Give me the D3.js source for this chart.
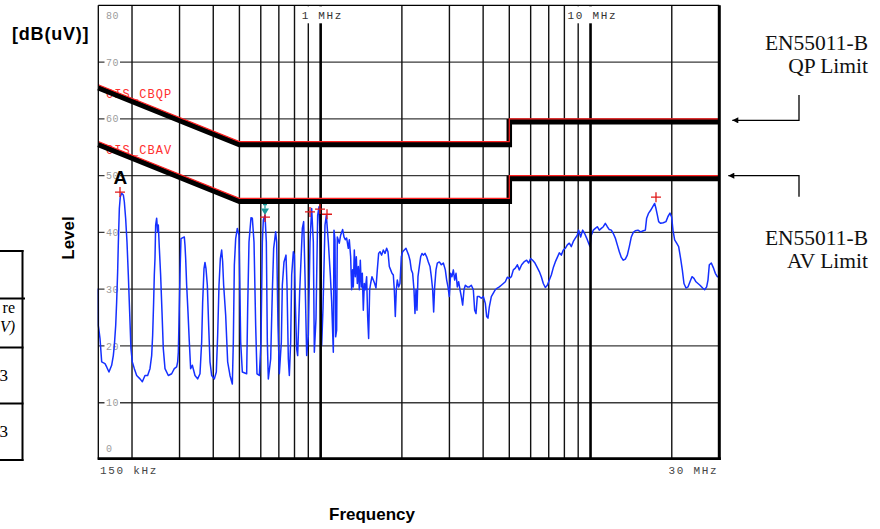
<!DOCTYPE html>
<html><head><meta charset="utf-8">
<script src="https://cdn.jsdelivr.net/npm/d3@7"></script>
<style>html,body{margin:0;padding:0;background:#fff;} svg{display:block;}</style>
</head><body>
<svg id="chart" width="880" height="529"></svg>
<script>
// ---------- data ----------
const yTickValues = [0, 10, 20, 30, 40, 50, 60, 70, 80];
const gridFreqsMHz = [0.2,0.3,0.4,0.5,0.6,0.7,0.8,0.9,1,2,3,4,5,6,7,8,9,10,20];
const decadeFreqsMHz = [1, 10];
const decadeLabels = ["1 MHz", "10 MHz"];
const edgeLabels = ["150 kHz", "30 MHz"];
const limitFreqMHz = [0.15, 0.5, 5, 5, 30];
const qpLimit = [66, 56, 56, 60, 60];
const avLimit = [56, 46, 46, 50, 50];
const limitNames = ["CIS_CBQP", "CIS_CBAV"];

const lowBandFreqKHz = [150.0,150.1,152.2,154.4,158.8,161.1,164.3,168.1,170.5,172.0,
174.0,175.4,176.9,178.0,179.5,181.0,183.1,185.7,187.3,189.4,
191.6,193.8,196.0,198.2,200.5,204.0,208.1,214.1,218.4,223.4,
228.5,233.1,236.5,238.5,240.5,241.9,243.3,244.7,246.8,248.9,
250.3,252.5,255.3,258.3,261.2,265.0,272.6,280.5,286.9,292.7,
295.2,296.9,298.6,301.1,303.7,312.5,314.3,316.1,318.8,322.4,
326.1,329.8,334.6,342.3,350.1,357.2,362.3,365.4,369.6,372.7,
376.0,380.3,384.6,389.0,394.6,403.7,410.6,415.3,420.1,424.9,
429.7,433.4,437.1,444.7,452.3,461.4,470.7,474.7,478.8,484.3,
491.2,498.3,501.1,505.4,512.6,531.9,536.5,542.6,552.0,558.3,
566.3,574.4,580.9,592.6,601.1,608.0,613.2,622.0,629.1,634.5,
639.9,652.8,662.1,669.7,681.2,687.1,694.9,702.9,715.0,721.1,
731.4,744.0,750.4,759.0,765.5,774.2,780.9,792.1,798.9,805.7,
814.9,821.9,836.0,855.3,865.0,874.9,887.5,900.2,913.1,926.2,
939.4,947.5,961.1,974.8,986.0,997.3,1008.7,1020.2,1037.8,1049.6,
1067.7,1086.1,1098.5,1114.2];
const lowBandLevel = [30.1,23.6,21.3,17.2,16.9,16.3,15.4,16.6,18.3,20.1,
23.6,27.7,33.0,38.3,44.2,46.3,46.9,46.6,45.4,42.5,
38.3,32.5,26.0,19.5,17.2,16.0,14.8,14.2,13.7,14.8,
14.8,16.0,18.3,21.9,27.7,32.5,35.4,41.3,42.5,40.1,
41.3,37.2,32.5,26.0,19.5,16.0,14.8,15.1,16.0,16.3,
17.2,18.9,24.2,32.5,38.9,39.2,37.7,35.4,30.7,26.0,
20.7,16.0,16.6,14.8,14.2,15.1,20.7,27.7,33.6,34.7,
33.6,30.7,23.6,17.2,14.8,14.2,15.4,21.9,30.7,35.4,
36.9,34.8,30.7,25.4,17.2,14.8,13.3,20.7,34.2,38.9,
40.7,39.5,32.5,20.7,15.4,15.1,26.6,38.3,42.6,42.5,
38.3,23.6,15.1,14.8,20.7,38.3,42.2,43.0,38.3,20.7,
14.2,17.7,29.5,37.2,40.1,38.3,23.6,15.1,20.7,30.7,
34.8,36.0,30.7,17.7,14.8,20.7,32.5,36.6,36.0,27.7,
19.5,18.3,29.5,40.7,41.9,32.5,18.3,21.9,38.3,44.2,
38.3,18.9,24.8,43.0,44.5,38.3,20.1,26.6,41.3,43.0,
38.3,32.5,27.7,18.9];

const midBandFreqKHz = [1120.4,1130.0,1136.5,1146.2,1152.7,1172.5,1185.9,1206.4,1220.2,1234.1,
1248.2,1266.1,1277.0,1291.6,1302.6,1313.8,1321.3,1332.7,1344.1,1355.6,
1367.2,1379.0,1390.7,1402.6,1414.7,1426.8,1439.0,1451.3,1463.7,1480.5,
1493.2,1505.9,1518.9,1531.9,1549.4,1567.2,1585.1,1603.2,1621.5,1640.1,
1658.9,1682.7,1706.8,1731.2,1756.0,1776.1,1796.4,1817.0,1837.8,1858.8,
1874.7,1890.7,1906.9,1923.3,1945.3,1967.5,1990.1,2012.8,2041.7,2070.9,
2094.6,2118.6,2142.8,2167.3,2192.0,2217.1,2236.1,2255.2,2274.5,2294.0,
2320.7,2347.2,2374.1,2401.2,2435.7,2470.5,2505.9,2541.8,2570.9,2600.3,
2622.6,2645.0,2675.2,2705.8,2752.4,2799.9,2848.1,2897.1,2930.3,2963.8,
2997.7,3032.0,3066.6,3101.8,3137.2,3173.1,3209.4,3246.1,3283.3,3320.8,
3358.7,3397.2,3436.1,3495.2,3555.3,3616.5,3678.8,3720.9,3763.4,3806.5,
3872.0,3938.6,4006.4,4075.3,4121.9,4169.0,4216.7,4289.3,4363.1,4438.2,
4514.6,4592.3,4671.3,4751.7,4833.5,4916.7,5001.3,5087.4,5175.0,5264.1,
5354.7,5446.9];
const midBandLevel = [40.4,38.7,21.6,22.8,39.2,38.1,39.5,40.5,39.2,38.7,
39.0,37.2,38.7,35.7,29.9,33.4,30.4,36.9,32.2,35.7,
31.0,34.0,29.9,35.1,30.4,32.8,26.3,31.0,29.9,32.2,
25.2,21.3,29.9,31.0,32.2,31.6,31.0,30.2,33.4,36.3,
36.6,36.0,36.9,36.3,37.2,36.6,34.0,33.4,32.8,32.5,
29.9,25.2,29.9,31.6,30.4,31.0,35.7,36.6,36.9,37.2,
36.6,36.0,35.1,33.4,32.8,29.9,25.7,29.9,26.3,32.2,
34.0,35.7,36.3,36.0,36.3,35.7,34.8,34.0,32.2,29.9,
26.0,30.4,33.4,34.6,34.8,34.3,34.6,33.4,31.6,30.4,
28.7,32.8,32.2,33.4,31.6,32.8,30.4,31.3,29.9,28.7,
27.2,29.9,30.7,30.4,30.4,30.7,29.9,26.3,25.7,28.7,
28.7,28.4,28.7,27.5,25.2,24.9,26.9,28.7,29.3,29.9,
30.2,30.4,30.7,31.0,31.3,32.1,31.9,32.2,33.4,33.7,
34.3,33.4];

const highBandFreqKHz = [5555.7,5667.7,5797.9,5899.5,5999.3,6102.6,6225.2,6350.3,6459.6,6570.8,
6683.8,6798.9,6915.9,7035.0,7156.0,7279.2,7404.5,7532.0,7661.7,7793.4,
7927.5,8064.5,8202.9,8344.0,8487.7,8633.7,8782.2,8933.3,9035.5,9190.9,
9349.2,9510.1,9673.7,9840.1,9952.7,10067,10240,10416,10595,10778,
10963,11152,11344,11539,11738,11940,12145,12354,12566,12784,
13003,13227,13455,13686,13921,14161,14405,14653,14990,15335,
15688,15959,16141,16418,16700,16988,17281,17478,17678,17880,
18187,18607,19035,19363,19696,19977,20207,20497,20848,21207,
21572,21881,22194,22576,22964,23361,23762,24171,24587,25010,
25442,26027,26473,26930,27238,27549,28022,28505,28996,29496,
29917];
const highBandLevel = [34.3,34.8,35.1,34.6,35.4,35.1,34.6,33.8,33.1,32.2,
31.0,30.3,30.7,31.6,32.5,33.8,34.8,35.6,36.4,36.0,
36.9,37.2,37.8,38.1,37.5,38.4,39.0,39.5,40.4,39.2,
40.4,39.8,39.0,38.1,37.5,39.5,40.4,40.7,41.0,40.4,
40.7,41.0,41.6,41.0,40.5,40.4,39.8,39.0,37.8,36.6,
35.6,35.1,35.3,36.0,37.5,39.2,40.0,40.3,40.4,40.1,
40.3,40.4,42.5,43.4,43.9,44.5,45.1,44.2,43.1,41.9,
41.6,41.7,41.9,42.8,43.4,42.7,40.4,38.7,38.1,37.5,
35.4,33.4,31.0,30.2,30.4,31.3,32.2,31.9,31.3,31.0,
30.7,30.2,29.9,30.4,31.6,34.3,34.6,33.8,32.8,32.2,
32.2];

const markerFreqMHz = [0.1805, 0.622, 0.913, 0.9946, 1.0556, 17.48];
const markerLevel = [47.1, 42.7, 43.6, 44.1, 43.2, 46.2];
const deltaMarkerFreqMHz = [0.622];
const deltaMarkerLevel = [44.2];
const peakLabel = "A";

const annotations = [["EN55011-B", "QP Limit"], ["EN55011-B", "AV Limit"]];
// only the visible right-hand fragments of the neighbouring table
const tableTexts = ["re", "V)", "3", "3"];

// ---------- chart ----------
const svg = d3.select("#chart");
svg.append("rect").attr("width", 880).attr("height", 529).attr("fill", "#fff");

const x = d3.scaleLog().domain([0.15, 30]).range([98.3, 719.3]);
const y = d3.scaleLinear().domain([0, 80]).range([459.5, 5.3]);
const mono = "'Liberation Mono','DejaVu Sans Mono',monospace";

// horizontal grid
svg.append("g").selectAll("line").data(yTickValues.filter(v => v > 0 && v < 80)).join("line")
  .attr("x1", x(0.15)).attr("x2", x(30)).attr("y1", d => y(d)).attr("y2", d => y(d))
  .attr("stroke", "#3a3a3a").attr("stroke-width", 1.3);

// vertical grid (thin ones)
svg.append("g").selectAll("line").data(gridFreqsMHz.filter(f => !decadeFreqsMHz.includes(f))).join("line")
  .attr("x1", d => x(d)).attr("x2", d => x(d)).attr("y1", y(80)).attr("y2", y(0))
  .attr("stroke", "#111").attr("stroke-width", 1.4);

// y tick labels with white background
const yl = svg.append("g");
yTickValues.forEach(v => {
  let by = y(v) + 3.6;
  if (v === 80) by = y(v) + 13.2;
  if (v === 0) by = y(v) - 8;
  if (v > 0 && v < 80) {
    yl.append("rect").attr("x", 104.5).attr("y", y(v) - 4).attr("width", v >= 10 ? 15.5 : 9).attr("height", 8).attr("fill", "#fff");
  }
  yl.append("text").attr("x", 106).attr("y", by).text(String(v))
    .attr("font-family", mono).attr("font-size", 10).attr("letter-spacing", 0.6).attr("fill", "#9c9c9c");
});

// limit names (under the limit lines)
[qpLimit, avLimit].forEach((lim, i) => {
  svg.append("text").attr("x", 106).attr("y", y(lim[0]) + 13.2 - (i === 0 ? 0 : 0.5))
    .text(limitNames[i]).attr("font-family", mono).attr("font-size", 12)
    .attr("letter-spacing", 1.1).attr("fill", "#ff3030");
});

// trace
const trace = [
  ...d3.zip(lowBandFreqKHz, lowBandLevel),
  ...d3.zip(midBandFreqKHz, midBandLevel),
  ...d3.zip(highBandFreqKHz, highBandLevel)
];
const line = d3.line().x(d => x(d[0] / 1000)).y(d => y(d[1]));
svg.append("path").attr("d", line(trace)).attr("fill", "none")
  .attr("stroke", "#1530ff").attr("stroke-width", 1.5).attr("stroke-linejoin", "round");

// decade grid lines (thick) with top labels
decadeFreqsMHz.forEach((f, i) => {
  svg.append("line").attr("x1", x(f)).attr("x2", x(f)).attr("y1", y(80)).attr("y2", y(0))
    .attr("stroke", "#000").attr("stroke-width", 2.6);
  svg.append("rect").attr("x", x(f) - 24).attr("y", y(80) + 1).attr("width", 52).attr("height", 17).attr("fill", "#fff");
  svg.append("text").attr("x", x(f) - (i === 0 ? 19 : 23)).attr("y", 18.5).text(decadeLabels[i])
    .attr("font-family", mono).attr("font-size", 11).attr("letter-spacing", 1.7).attr("fill", "#333");
});

// limit lines: thick black under, thin red on exact value
[qpLimit, avLimit].forEach(lim => {
  const pts = d3.zip(limitFreqMHz, lim);
  const l = d3.line().x(d => x(d[0])).y(d => y(d[1]));
  svg.append("path").attr("d", l(pts)).attr("transform", "translate(0,2.9)")
    .attr("fill", "none").attr("stroke", "#000").attr("stroke-width", 5.5).attr("stroke-linejoin", "miter");
  svg.append("path").attr("d", l(pts)).attr("fill", "none")
    .attr("stroke", "#ff2020").attr("stroke-width", 1.2);
});

// markers
markerFreqMHz.forEach((f, i) => {
  const cx = x(f), cy = y(markerLevel[i]);
  svg.append("path").attr("d", `M${cx - 5},${cy}H${cx + 5}M${cx},${cy - 5}V${cy + 5}`)
    .attr("stroke", "#e01818").attr("stroke-width", 1.3);
});
deltaMarkerFreqMHz.forEach((f, i) => {
  const cx = x(f), cy = y(deltaMarkerLevel[i]);
  svg.append("path").attr("d", `M${cx - 4},${cy}L${cx + 4},${cy}L${cx},${cy + 6.5}Z`).attr("fill", "#1a9a9a");
  svg.append("path").attr("d", `M${cx - 2},${cy - 4}H${cx + 2}M${cx},${cy - 4}V${cy}`)
    .attr("stroke", "#1a9a9a").attr("stroke-width", 1.2);
});
svg.append("text").attr("x", x(markerFreqMHz[0]) + 0.3).attr("y", y(markerLevel[0]) - 8)
  .attr("text-anchor", "middle").text(peakLabel)
  .attr("font-family", "'Liberation Sans',Arial,sans-serif").attr("font-weight", "bold").attr("font-size", 19);

// frame
svg.append("line").attr("x1", x(0.15)).attr("x2", x(30)).attr("y1", y(80)).attr("y2", y(80)).attr("stroke", "#000").attr("stroke-width", 1.2);
svg.append("line").attr("x1", x(0.15)).attr("x2", x(0.15)).attr("y1", y(80)).attr("y2", y(0)).attr("stroke", "#000").attr("stroke-width", 1.3);
svg.append("line").attr("x1", x(30)).attr("x2", x(30)).attr("y1", y(80)).attr("y2", y(0) + 0.5).attr("stroke", "#000").attr("stroke-width", 3);
svg.append("line").attr("x1", x(0.15) - 0.6).attr("x2", x(30) + 1.5).attr("y1", y(0) - 0.8).attr("y2", y(0) - 0.8).attr("stroke", "#000").attr("stroke-width", 2.7);

// edge frequency labels
svg.append("text").attr("x", x(0.15) + 1.7).attr("y", 473.5).text(edgeLabels[0])
  .attr("font-family", mono).attr("font-size", 11).attr("letter-spacing", 1.7).attr("fill", "#444");
svg.append("text").attr("x", x(30) - 1).attr("y", 473.5).attr("text-anchor", "end").text(edgeLabels[1])
  .attr("font-family", mono).attr("font-size", 11).attr("letter-spacing", 1.7).attr("fill", "#444");

// axis titles
const sans = "'Liberation Sans',Arial,Helvetica,sans-serif";
svg.append("text").attr("x", 12).attr("y", 39.5).text("[dB(uV)]")
  .attr("font-family", sans).attr("font-weight", "bold").attr("font-size", 18).attr("letter-spacing", 0.8);
svg.append("text").attr("transform", "translate(74,238) rotate(-90)").attr("text-anchor", "middle").text("Level")
  .attr("font-family", sans).attr("font-weight", "bold").attr("font-size", 17);
svg.append("text").attr("x", 372).attr("y", 520).attr("text-anchor", "middle").text("Frequency")
  .attr("font-family", sans).attr("font-weight", "bold").attr("font-size", 17);

// right annotations with arrows
const serif = "'Liberation Serif','Times New Roman',serif";
const annBase = [50, 245];
annotations.forEach((a, i) => {
  a.forEach((t, j) => {
    svg.append("text").attr("x", 868).attr("y", annBase[i] + j * 22.5).attr("text-anchor", "end").text(t)
      .attr("font-family", serif).attr("font-size", 21.5).attr("fill", "#111");
  });
});
const defs = svg.append("defs");
defs.append("marker").attr("id", "ah").attr("viewBox", "0 0 10 10").attr("refX", 10).attr("refY", 5)
  .attr("markerWidth", 8).attr("markerHeight", 6).attr("markerUnits", "userSpaceOnUse").attr("orient", "auto")
  .append("path").attr("d", "M0,0L10,5L0,10Z").attr("fill", "#000");
[qpLimit, avLimit].forEach((lim, i) => {
  const ay = y(lim[4]) + (i === 0 ? 1.5 : 0);
  const vy = i === 0 ? 95 : 196.7;
  svg.append("path").attr("d", `M799,${vy}V${ay}H${x(30) + (i === 0 ? 13 : 9)}`)
    .attr("fill", "none").attr("stroke", "#000").attr("stroke-width", 1.3).attr("marker-end", "url(#ah)");
});

// left table fragment
const tb = svg.append("g").attr("stroke", "#000").attr("stroke-width", 2);
tb.append("line").attr("x1", 0).attr("x2", 23.5).attr("y1", 251).attr("y2", 251);
tb.append("line").attr("x1", 22.5).attr("x2", 22.5).attr("y1", 250).attr("y2", 461);
[[298.5, 25], [347.5, 23.5], [403.5, 23.5], [460, 23.5]].forEach(([yy, xe]) =>
  tb.append("line").attr("x1", 0).attr("x2", xe).attr("y1", yy).attr("y2", yy));
svg.append("text").attr("x", 15).attr("y", 312.5).attr("text-anchor", "end").text(tableTexts[0])
  .attr("font-family", serif).attr("font-size", 16);
svg.append("text").attr("x", 15).attr("y", 331.5).attr("text-anchor", "end").text(tableTexts[1])
  .attr("font-family", serif).attr("font-size", 16).attr("font-style", "italic");
svg.append("text").attr("x", 8).attr("y", 381).attr("text-anchor", "end").text(tableTexts[2])
  .attr("font-family", serif).attr("font-size", 17);
svg.append("text").attr("x", 8).attr("y", 437).attr("text-anchor", "end").text(tableTexts[3])
  .attr("font-family", serif).attr("font-size", 17);
</script>
</body></html>
